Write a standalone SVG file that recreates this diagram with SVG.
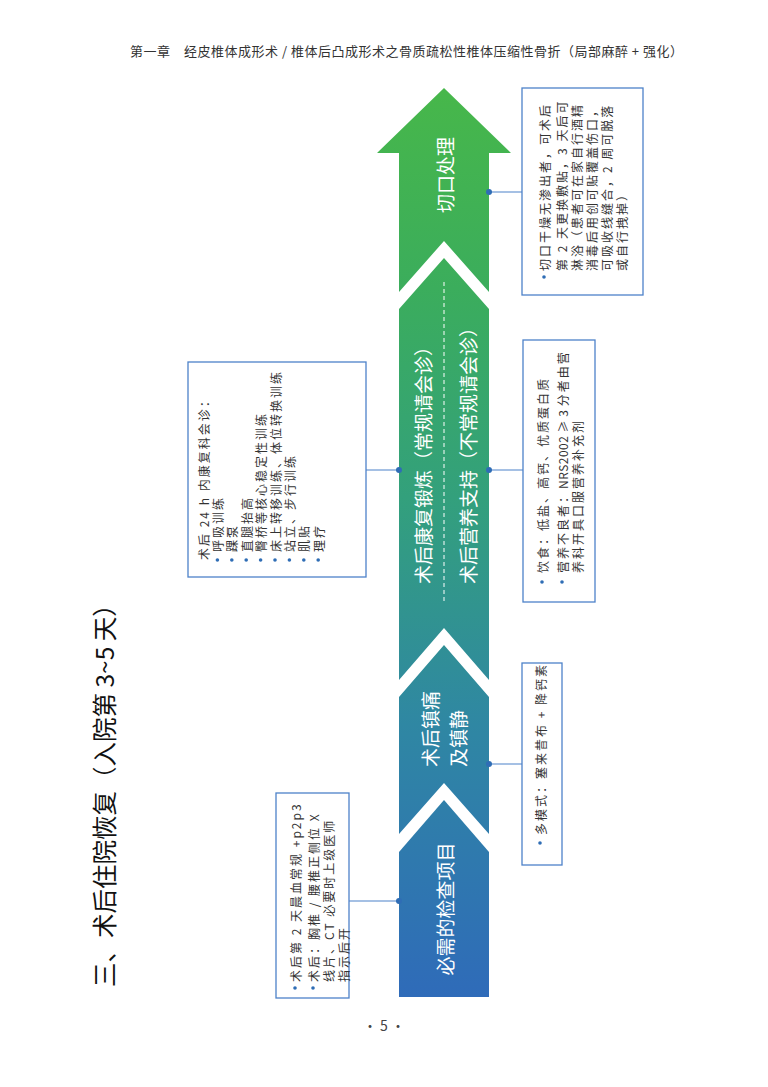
<svg xmlns="http://www.w3.org/2000/svg" width="768" height="1087" viewBox="0 0 768 1087">
<defs>
<linearGradient id="g" gradientUnits="userSpaceOnUse" x1="0" y1="997" x2="0" y2="88">
<stop offset="0" stop-color="#2f6bb9"/>
<stop offset="0.3" stop-color="#2f87a3"/>
<stop offset="0.55" stop-color="#33a07c"/>
<stop offset="0.78" stop-color="#3bad5c"/>
<stop offset="1" stop-color="#47b74a"/>
</linearGradient>
<style>
.box{fill:#fff;stroke:#4d82c9;stroke-width:1.3}
.bt{font-family:"Noto Sans CJK SC",sans-serif;font-size:12px;letter-spacing:2px;fill:#333;dominant-baseline:central}
.at{font-family:"Noto Sans CJK SC",sans-serif;font-size:19px;fill:#fff;dominant-baseline:central}
.bul{fill:#2f6db5}
.conn{stroke:#4d82c9;stroke-width:1.2;fill:none}
.dot{fill:#2f6db5}
.seg{fill:url(#g)}
</style>
</defs>
<rect width="768" height="1087" fill="#fff"/>
<g id="header">
<text x="130" y="50" textLength="553" lengthAdjust="spacing" font-family="Noto Sans CJK SC, sans-serif" font-size="13" fill="#333" dominant-baseline="central">第一章　经皮椎体成形术 / 椎体后凸成形术之骨质疏松性椎体压缩性骨折（局部麻醉 + 强化）</text>
</g>
<g id="title">
<text transform="translate(103,987) rotate(-90)" font-family="Noto Sans CJK SC, sans-serif" font-size="24.5" fill="#111" dominant-baseline="central">三、术后住院恢复（入院第 3~5 天）</text>
</g>
<g id="arrow">
<g id="seg-wound">
<polygon class="seg" points="444,88 511,153 489,153 489,292 444,241 399,292 399,153 377,153"/>
<text class="at" transform="translate(444,175) rotate(-90)" text-anchor="middle">切口处理</text>
</g>
<g id="seg-rehab-nutrition">
<polygon class="seg" points="444,258 489,309 489,680 444,628 399,680 399,309"/>
<line x1="444" y1="282" x2="444" y2="602" stroke="#fff" stroke-width="1" stroke-dasharray="4,3"/>
<text class="at" transform="translate(422,584) rotate(-90)">术后康复锻炼（常规请会诊）</text>
<text class="at" transform="translate(467,584) rotate(-90)">术后营养支持（不常规请会诊）</text>
</g>
<g id="seg-analgesia">
<polygon class="seg" points="444,645 489,697 489,834 444,783 399,834 399,697"/>
<text class="at" transform="translate(429,767) rotate(-90)">术后镇痛</text>
<text class="at" transform="translate(457,767) rotate(-90)">及镇静</text>
</g>
<g id="seg-exam">
<polygon class="seg" points="444,800 489,852 489,997 399,997 399,852"/>
<text class="at" transform="translate(444,909) rotate(-90)" text-anchor="middle">必需的检查项目</text>
</g>
</g>
<g id="connectors">
<line class="conn" x1="366" y1="470" x2="399" y2="470"/>
<circle class="dot" cx="399" cy="470" r="3"/>
<line class="conn" x1="349" y1="901" x2="399" y2="901"/>
<circle class="dot" cx="399" cy="901" r="3"/>
<line class="conn" x1="489" y1="192" x2="522" y2="192"/>
<circle class="dot" cx="489" cy="192" r="3"/>
<line class="conn" x1="489" y1="470" x2="523" y2="470"/>
<circle class="dot" cx="489" cy="470" r="3"/>
<line class="conn" x1="489" y1="764" x2="522" y2="764"/>
<circle class="dot" cx="489" cy="764" r="3"/>
</g>
<g id="box-wound">
<rect class="box" x="522" y="88" width="121" height="207"/>
<circle class="bul" cx="544" cy="277" r="1.8"/>
<text class="bt" transform="translate(544,271) rotate(-90)">切口干燥无渗出者，可术后</text>
<text class="bt" transform="translate(561,271) rotate(-90)">第 2 天更换敷贴，3 天后可</text>
<text class="bt" transform="translate(576,271) rotate(-90)">淋浴（患者可在家自行酒精</text>
<text class="bt" transform="translate(591,271) rotate(-90)">消毒后用创可贴覆盖伤口，</text>
<text class="bt" transform="translate(606,271) rotate(-90)">可吸收线缝合，2 周可脱落</text>
<text class="bt" transform="translate(621,271) rotate(-90)">或自行拽掉）</text>
</g>
<g id="box-nutrition">
<rect class="box" x="523" y="340" width="72" height="262"/>
<circle class="bul" cx="542" cy="582" r="1.8"/>
<text class="bt" transform="translate(542,573) rotate(-90)">饮食：低盐、高钙、优质蛋白质</text>
<circle class="bul" cx="562" cy="582" r="1.8"/>
<text class="bt" transform="translate(562,573) rotate(-90)">营养不良者：<tspan letter-spacing="0.5">NRS2002 ≥ 3 </tspan>分者由营</text>
<text class="bt" transform="translate(577,573) rotate(-90)">养科开具口服营养补充剂</text>
</g>
<g id="box-analgesia">
<rect class="box" x="522" y="663" width="40" height="202"/>
<circle class="bul" cx="540" cy="843" r="1.8"/>
<text class="bt" transform="translate(540,835) rotate(-90)">多模式：塞来昔布 + 降钙素</text>
</g>
<g id="box-rehab">
<rect class="box" x="188" y="362" width="178" height="215"/>
<text class="bt" transform="translate(203,560) rotate(-90)">术后 24 h 内康复科会诊：</text>
<circle class="bul" cx="217.4" cy="560" r="1.8"/>
<text class="bt" transform="translate(217.4,552) rotate(-90)">呼吸训练</text>
<circle class="bul" cx="231.8" cy="560" r="1.8"/>
<text class="bt" transform="translate(231.8,552) rotate(-90)">踝泵</text>
<circle class="bul" cx="246.2" cy="560" r="1.8"/>
<text class="bt" transform="translate(246.2,552) rotate(-90)">直腿抬高</text>
<circle class="bul" cx="260.6" cy="560" r="1.8"/>
<text class="bt" transform="translate(260.6,552) rotate(-90)">臀桥等核心稳定性训练</text>
<circle class="bul" cx="275" cy="560" r="1.8"/>
<text class="bt" transform="translate(275,552) rotate(-90)">床上转移训练、体位转换训练</text>
<circle class="bul" cx="289.4" cy="560" r="1.8"/>
<text class="bt" transform="translate(289.4,552) rotate(-90)">站立、步行训练</text>
<circle class="bul" cx="303.8" cy="560" r="1.8"/>
<text class="bt" transform="translate(303.8,552) rotate(-90)">肌贴</text>
<circle class="bul" cx="318.2" cy="560" r="1.8"/>
<text class="bt" transform="translate(318.2,552) rotate(-90)">理疗</text>
</g>
<g id="box-exam">
<rect class="box" x="276" y="793" width="73" height="205"/>
<circle class="bul" cx="295" cy="988" r="1.8"/>
<text class="bt" transform="translate(295,982) rotate(-90)">术后第 2 天晨血常规 +p2p3</text>
<circle class="bul" cx="313" cy="988" r="1.8"/>
<text class="bt" transform="translate(313,982) rotate(-90)">术后：胸椎 / 腰椎正侧位 X</text>
<text class="bt" transform="translate(328,982) rotate(-90)">线片、CT 必要时上级医师</text>
<text class="bt" transform="translate(343,982) rotate(-90)">指示后开</text>
</g>
<g id="page">
<text x="384" y="1025" text-anchor="middle" font-family="Noto Sans CJK SC, sans-serif" font-size="14" fill="#444" dominant-baseline="central">· 5 ·</text>
</g>
</svg>
